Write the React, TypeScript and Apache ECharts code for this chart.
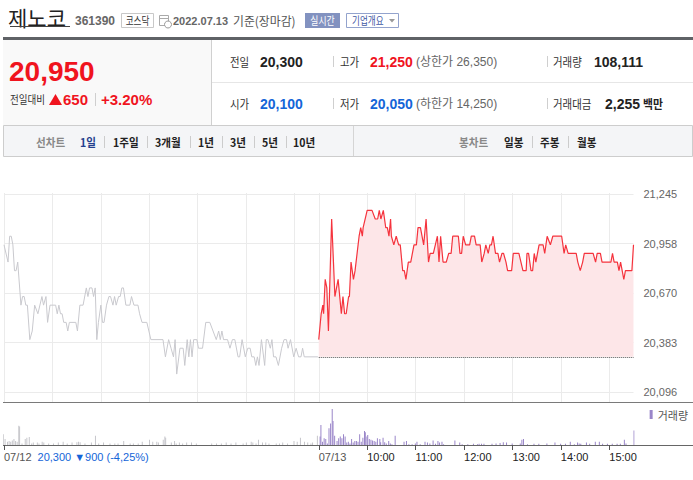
import React, { useEffect, useRef } from "react";
import * as echarts from "echarts";

const FONT = "'Liberation Sans', Arial, 'Noto Sans CJK KR', sans-serif";
const KFONT = "'Noto Sans CJK KR', 'Liberation Sans', sans-serif";

// ---- axis definitions ----
const dayMinutes = 390;
const totalMinutes = 780;
const categories: string[] = Array.from({ length: totalMinutes + 1 }, (_, i) => String(i));
const gridMinutes = [0, 60, 120, 180, 240, 300, 360, 390, 450, 510, 570, 630, 690, 750];
const tickMinutes = [0, 390, 450, 510, 570, 630, 690, 750];
const tickLabels = ["07/12", "07/13", "10:00", "11:00", "12:00", "13:00", "14:00", "15:00"];
const prevDayNote = "20,300 ▼900 (-4,25%)";

const yMin = 20096;
const yMax = 21245;
const yStep = 287.25;
const yTickLabels = ["20,096", "20,383", "20,670", "20,958", "21,245"];
const prevClose = 20300;

// ---- price data: [minute since 09:00, price] ----
const day1Price: [number, number][] = [
  [0, 20950], [5, 20850], [7, 21000], [9, 21000], [11, 20950], [13, 20800], [15, 20800], [17, 20850],
  [21, 20600], [23, 20650], [25, 20650], [27, 20600], [29, 20600], [32, 20400], [35, 20450], [38, 20600],
  [42, 20550], [47, 20650], [49, 20600], [52, 20650], [54, 20500], [57, 20600], [64, 20600], [66, 20550],
  [68, 20600], [70, 20550], [72, 20550], [74, 20500], [77, 20500], [79, 20450], [81, 20500], [89, 20500],
  [91, 20450], [94, 20600], [98, 20600], [102, 20700], [104, 20650], [106, 20700], [109, 20700], [111, 20650],
  [113, 20700], [115, 20400], [117, 20500], [120, 20600], [122, 20500], [124, 20500], [127, 20600], [130, 20650],
  [132, 20650], [135, 20600], [137, 20650], [139, 20600], [142, 20650], [144, 20650], [146, 20700], [148, 20700],
  [151, 20600], [156, 20600], [158, 20650], [161, 20600], [166, 20600], [168, 20550], [171, 20500], [177, 20500],
  [182, 20400], [197, 20400], [200, 20300], [204, 20400], [207, 20350], [210, 20300], [212, 20400], [214, 20200],
  [218, 20350], [222, 20350], [224, 20250], [227, 20400], [229, 20300], [231, 20400], [233, 20300], [235, 20400],
  [239, 20400], [241, 20350], [246, 20350], [250, 20500], [255, 20500], [259, 20450], [263, 20400], [266, 20450],
  [268, 20400], [270, 20450], [272, 20400], [277, 20400], [280, 20350], [283, 20400], [286, 20400], [290, 20300],
  [292, 20300], [295, 20400], [299, 20300], [302, 20350], [305, 20350], [307, 20300], [310, 20300], [312, 20250],
  [314, 20300], [316, 20250], [319, 20400], [323, 20250], [325, 20400], [327, 20400], [330, 20350], [332, 20400],
  [334, 20300], [337, 20300], [340, 20250], [344, 20350], [347, 20400], [350, 20400], [352, 20350], [355, 20400],
  [359, 20300], [362, 20350], [365, 20300], [368, 20300], [370, 20350], [372, 20300], [389, 20300],
];

const day2Price: [number, number][] = [
  [0, 20400], [3, 20550], [5, 20600], [6, 20550], [8, 20750], [10, 20700], [12, 20450], [16, 21100],
  [20, 20650], [24, 20750], [28, 20550], [30, 20650], [32, 20550], [34, 20550], [37, 20650], [38, 20650],
  [40, 20850], [43, 20750], [45, 20800], [50, 21000], [52, 21050], [54, 21000], [55, 21050], [60, 21150],
  [66, 21150], [70, 21100], [73, 21100], [75, 21150], [77, 21100], [80, 21150], [83, 21050], [85, 21050],
  [87, 21000], [89, 21100], [90, 21000], [93, 20950], [96, 21000], [99, 20950], [101, 20950], [104, 20800],
  [106, 20800], [108, 20750], [111, 20850], [114, 20850], [118, 20950], [121, 20950], [123, 21050], [126, 21050],
  [130, 20950], [133, 21100], [136, 20850], [138, 20900], [142, 20900], [147, 21000], [149, 20850], [151, 21000],
  [154, 20850], [158, 20850], [161, 20900], [164, 20900], [166, 21000], [173, 21000], [175, 20900], [177, 20900],
  [179, 21000], [182, 20950], [187, 20950], [189, 21000], [193, 21000], [195, 20950], [200, 20950], [202, 20850],
  [205, 20900], [207, 20950], [210, 20900], [212, 20950], [214, 20950], [216, 21000], [219, 20900], [222, 20900],
  [224, 20850], [227, 20900], [229, 20900], [232, 20850], [234, 20800], [239, 20800], [241, 20900], [248, 20900],
  [253, 20800], [257, 20800], [258, 20900], [260, 20900], [263, 20800], [265, 20800], [267, 20900], [269, 20850],
  [273, 20950], [278, 20950], [280, 20900], [283, 21000], [287, 20950], [290, 21000], [301, 21000], [304, 20900],
  [306, 20950], [309, 20900], [319, 20900], [321, 20850], [324, 20800], [327, 20850], [329, 20900], [340, 20900],
  [343, 20850], [345, 20900], [349, 20900], [351, 20850], [362, 20850], [364, 20900], [366, 20850], [370, 20850],
  [372, 20800], [374, 20850], [378, 20750], [380, 20800], [388, 20800], [390, 20950],
];

// ---- volume data: [minute since 09:00, shares] ----
const day1Volume: [number, number][] = [
  [0, 2700], [2, 1500], [5, 800], [7, 1000], [9, 800], [11, 1100], [13, 1500], [15, 1000], [17, 800],
  [19, 4800], [20, 4600], [23, 400], [27, 1500], [29, 1800], [32, 2000], [35, 400], [37, 600], [42, 600],
  [44, 400], [48, 800], [50, 600], [56, 400], [62, 400], [68, 600], [74, 800], [79, 400], [85, 600],
  [91, 700], [93, 800], [95, 700], [101, 400], [109, 600], [114, 2300], [118, 400], [124, 600], [132, 400],
  [138, 400], [142, 400], [149, 1000], [157, 400], [161, 400], [167, 400], [172, 800], [181, 1300], [185, 800],
  [190, 800], [192, 600], [198, 1300], [200, 2100], [201, 1800], [208, 600], [212, 1000], [214, 400], [218, 600],
  [222, 400], [227, 600], [233, 600], [239, 400], [258, 400], [264, 400], [270, 400], [276, 600], [282, 400],
  [288, 600], [297, 400], [301, 600], [307, 800], [309, 600], [313, 400], [316, 1300], [321, 600], [325, 600],
  [329, 400], [338, 400], [342, 400], [346, 600], [352, 400], [360, 1000], [364, 800], [368, 1800], [373, 800],
  [377, 600], [381, 400], [383, 600], [389, 2300],
];

const day2Volume: [number, number][] = [
  [1, 2100], [2, 5000], [4, 800], [6, 1700], [8, 1500], [10, 400], [12, 4200], [14, 5400], [16, 9000],
  [17, 6000], [19, 2300], [22, 1000], [24, 1700], [26, 2100], [28, 1700], [30, 2700], [32, 2100], [34, 600],
  [36, 800], [38, 400], [40, 1500], [42, 600], [44, 1000], [46, 1000], [48, 800], [50, 2700], [52, 800],
  [54, 1800], [56, 3500], [57, 3200], [59, 2100], [60, 2500], [62, 1500], [64, 1300], [66, 1100], [68, 1000],
  [70, 800], [72, 1700], [75, 1500], [76, 700], [79, 1800], [81, 700], [83, 400], [86, 1000], [88, 400],
  [90, 200], [94, 2300], [105, 800], [108, 1000], [111, 200], [115, 200], [119, 400], [121, 800], [125, 200],
  [131, 800], [134, 600], [137, 400], [141, 1100], [144, 300], [147, 1000], [149, 600], [152, 800], [154, 200],
  [168, 1100], [174, 600], [177, 200], [184, 200], [191, 300], [196, 200], [198, 300], [201, 300], [204, 300],
  [214, 300], [219, 400], [224, 500], [228, 700], [232, 600], [239, 400], [249, 400], [251, 1300], [253, 1500],
  [258, 200], [266, 300], [272, 300], [282, 400], [292, 600], [299, 300], [305, 300], [311, 800], [316, 200],
  [320, 600], [322, 400], [324, 300], [331, 600], [335, 300], [342, 800], [347, 800], [351, 300], [357, 300],
  [363, 300], [369, 300], [373, 300], [378, 1300], [380, 400], [390, 3600],
];

const volumeMax = 10000;

// ---- colours ----
const RED = "#f0141e";
const BLUE = "#1465d8";
const LINE_RED = "#f5333d";
const GREY_LINE = "#c9c9ce";
const GRID = "#ebebeb";

function txt(text: string, x: number, y: number, o: any = {}) {
  const el: any = {
    type: "text",
    x,
    y,
    silent: true,
    style: {
      text,
      fill: o.fill || "#333",
      fontSize: o.size || 12,
      fontWeight: o.bold ? "bold" : "normal",
      fontFamily: o.family || FONT,
      align: o.align || "left",
      verticalAlign: "middle",
    },
  };
  if (o.sx) el.scaleX = o.sx;
  return el;
}
function hline(x1: number, x2: number, y: number, stroke: string, w = 1) {
  return { type: "line", silent: true, shape: { x1, y1: y, x2, y2: y }, style: { stroke, lineWidth: w } };
}
function vline(x: number, y1: number, y2: number, stroke: string) {
  return { type: "line", silent: true, shape: { x1: x, y1, x2: x, y2 }, style: { stroke, lineWidth: 1 } };
}

function buildOption(): any {
  const shift = (d: [number, number][], off: number) => d.map(([m, v]) => [m + off, v]);
  const gridLeft = 4;
  const gridRight = 59.5;
  const K = (t: string, x: number, y: number, o: any = {}) => txt(t, x, y, { family: KFONT, ...o });
  const lab = { size: 12, fill: "#333", sx: 0.87 };
  const tab = { size: 11.5, bold: true, fill: "#222", sx: 0.92 };

  const graphic: any[] = [
    // title row
    K("제노코", 8, 17, { size: 21, fill: "#222" }),
    hline(10, 70, 26.5, "#444"),
    txt("361390", 75, 20.5, { size: 12, bold: true, fill: "#666" }),
    { type: "rect", silent: true, shape: { x: 121.5, y: 13.5, width: 32, height: 14 }, style: { fill: "#fff", stroke: "#c8c8c8" } },
    K("코스닥", 137.5, 20.5, { size: 11, fill: "#333", align: "center", sx: 0.78 }),
    { type: "rect", silent: true, shape: { x: 159.5, y: 15.5, width: 9, height: 10 }, style: { fill: "#fff", stroke: "#aaa" } },
    hline(159.5, 168.5, 18.5, "#aaa"),
    { type: "circle", silent: true, shape: { cx: 168, cy: 24.5, r: 3.5 }, style: { fill: "#fff", stroke: "#999" } },
    txt("2022.07.13", 173, 20.5, { size: 11, bold: true, fill: "#666" }),
    K("기준(장마감)", 233, 20.5, { size: 12.5, fill: "#555", sx: 0.95 }),
    { type: "rect", silent: true, shape: { x: 305, y: 13, width: 35, height: 15 }, style: { fill: "#8292c0" } },
    K("실시간", 322.5, 20.5, { size: 11, fill: "#fff", align: "center", sx: 0.8 }),
    { type: "rect", silent: true, shape: { x: 346.5, y: 13.5, width: 52, height: 14 }, style: { fill: "#fff", stroke: "#93a3cd" } },
    K("기업개요", 352, 20.5, { size: 11, fill: "#3f58a3", sx: 0.78 }),
    { type: "polygon", silent: true, shape: { points: [[389, 19], [395, 19], [392, 22.5]] }, style: { fill: "#999" } },
    // dark bar
    { type: "rect", silent: true, shape: { x: 3, y: 37, width: 690, height: 3 }, style: { fill: "#5f6266" } },
    // left panel
    { type: "rect", silent: true, shape: { x: 3, y: 40, width: 208, height: 85 }, style: { fill: "#f9f9f9" } },
    vline(211.5, 40, 125, "#d0d0d0"),
    txt("20,950", 9, 71, { size: 28, bold: true, fill: RED }),
    K("전일대비", 10, 99.5, { size: 11.5, fill: "#333", sx: 0.83 }),
    { type: "polygon", silent: true, shape: { points: [[49, 105], [55.5, 94], [62, 105]] }, style: { fill: RED } },
    txt("650", 63, 99.5, { size: 15, bold: true, fill: RED }),
    vline(95.5, 93, 106, "#cfcfcf"),
    txt("+3.20%", 101, 99.5, { size: 15, bold: true, fill: RED }),
    // right panel
    hline(212, 693, 82.5, "#e6e6e6"),
    K("전일", 230, 61.5, lab),
    txt("20,300", 260, 61.5, { size: 14, bold: true, fill: "#222" }),
    vline(333.5, 56, 67, "#cfcfcf"),
    K("고가", 340, 61.5, lab),
    txt("21,250", 370, 61.5, { size: 14, bold: true, fill: RED }),
    txt("(상한가 26,350)", 416, 61.5, { size: 12, fill: "#666" }),
    vline(547.5, 56, 67, "#cfcfcf"),
    K("거래량", 553, 61.5, lab),
    txt("108,111", 594, 61.5, { size: 14, bold: true, fill: "#222" }),
    K("시가", 230, 104, lab),
    txt("20,100", 260, 104, { size: 14, bold: true, fill: BLUE }),
    vline(333.5, 98, 109, "#cfcfcf"),
    K("저가", 340, 104, lab),
    txt("20,050", 370, 104, { size: 14, bold: true, fill: BLUE }),
    txt("(하한가 14,250)", 416, 104, { size: 12, fill: "#666" }),
    vline(547.5, 98, 109, "#cfcfcf"),
    K("거래대금", 553, 104, lab),
    txt("2,255", 605, 104, { size: 14, bold: true, fill: "#222" }),
    K("백만", 643, 104, { size: 12, bold: true, fill: "#222", sx: 0.9 }),
    // tab bar
    { type: "rect", silent: true, shape: { x: 3.5, y: 125.5, width: 689, height: 31 }, style: { fill: "#f4f5f7", stroke: "#cdcdcd" } },
    vline(353.5, 126, 156, "#d5d5d5"),
    K("선차트", 36, 142, { ...tab, fill: "#888" }),
    K("1일", 80, 142, { ...tab, fill: "#24408e" }),
    K("1주일", 113, 142, tab),
    K("3개월", 155, 142, tab),
    K("1년", 198, 142, tab),
    K("3년", 230, 142, tab),
    K("5년", 262, 142, tab),
    K("10년", 293, 142, tab),
    ...[104.5, 147.5, 190.5, 222.5, 254.5, 286.5].map((x) => vline(x, 136, 148, "#cccccc")),
    K("봉차트", 459, 142, { ...tab, fill: "#888" }),
    K("일봉", 504, 142, tab),
    vline(532.5, 136, 148, "#cccccc"),
    K("주봉", 540, 142, tab),
    vline(568.5, 136, 148, "#cccccc"),
    K("월봉", 577, 142, tab),
    // chart separators
    hline(3, 693, 402.5, "#7a7a7a"),
    hline(3, 693, 445.5, "#666"),
  ];

  const tickSet = new Set(tickMinutes);
  const gridSet = new Set(gridMinutes);

  return {
    animation: false,
    textStyle: { fontFamily: FONT },
    graphic,
    legend: {
      data: [{ name: "거래량", icon: "rect" }],
      right: 5,
      top: 409,
      itemWidth: 3,
      itemHeight: 9,
      padding: 0,
      selectedMode: false,
      textStyle: { fontSize: 11, color: "#555", fontFamily: KFONT },
    },
    grid: [
      { left: gridLeft, right: gridRight, top: 193, height: 209 },
      { left: gridLeft, right: gridRight, top: 194, height: 198 },
      { left: gridLeft, right: gridRight, top: 405, height: 40 },
    ],
    xAxis: [
      {
        type: "category", gridIndex: 0, data: categories, boundaryGap: false,
        axisLine: { show: false }, axisTick: { show: false }, axisLabel: { show: false },
        splitLine: { show: true, interval: (i: number) => gridSet.has(i), lineStyle: { color: GRID, width: 1 } },
      },
      {
        type: "category", gridIndex: 1, data: categories, boundaryGap: false,
        axisLine: { show: false }, axisTick: { show: false }, axisLabel: { show: false }, splitLine: { show: false },
      },
      {
        type: "category", gridIndex: 2, data: categories, boundaryGap: false,
        axisLine: { show: false },
        axisTick: { show: true, interval: (i: number) => tickSet.has(i), length: 5, lineStyle: { color: "#555" } },
        splitLine: { show: false },
        axisLabel: {
          show: true,
          interval: (i: number) => tickSet.has(i),
          align: "left",
          margin: 6,
          fontSize: 11,
          color: "#222",
          formatter: (_v: string, i: number) => {
            const k = tickMinutes.indexOf(i);
            if (k < 0) return "";
            if (k === 0) return `{d|${tickLabels[0]}}{b|${prevDayNote}}`;
            if (k === 1) return `{d|${tickLabels[1]}}`;
            return tickLabels[k];
          },
          rich: {
            d: { fontSize: 11, color: "#555" },
            b: { fontSize: 11, color: BLUE, padding: [0, 0, 0, 6] },
          },
        },
      },
    ],
    yAxis: [
      { type: "value", gridIndex: 0, show: false, min: 0, max: 1, splitLine: { show: false } },
      {
        type: "value", gridIndex: 1, position: "right", min: yMin, max: yMax, interval: yStep,
        axisLine: { show: false }, axisTick: { show: false },
        axisLabel: { color: "#666", fontSize: 11, margin: 10, formatter: (_v: number, i: number) => yTickLabels[i] ?? "" },
        splitLine: { show: true, lineStyle: { color: GRID, width: 1 } },
      },
      { type: "value", gridIndex: 2, show: false, min: 0, max: volumeMax, splitLine: { show: false } },
    ],
    series: [
      {
        name: "전일", type: "line", xAxisIndex: 1, yAxisIndex: 1, data: shift(day1Price, 0),
        symbol: "none", silent: true, lineStyle: { color: GREY_LINE, width: 1 }, itemStyle: { color: GREY_LINE },
      },
      {
        name: "당일", type: "line", xAxisIndex: 1, yAxisIndex: 1, data: shift(day2Price, dayMinutes),
        symbol: "none", silent: true, lineStyle: { color: LINE_RED, width: 1.2 }, itemStyle: { color: LINE_RED },
        areaStyle: { color: "#fde6e8", opacity: 1, origin: prevClose },
        markLine: {
          silent: true, symbol: ["none", "none"], label: { show: false },
          lineStyle: { type: "dotted", color: "#555", width: 1 },
          data: [[{ coord: [dayMinutes, prevClose] }, { coord: [totalMinutes, prevClose] }]],
        },
      },
      {
        name: "전일거래량", type: "bar", xAxisIndex: 2, yAxisIndex: 2, data: shift(day1Volume, 0),
        barWidth: 1, silent: true, itemStyle: { color: "#c6c6cb" },
      },
      {
        name: "거래량", type: "bar", xAxisIndex: 2, yAxisIndex: 2, data: shift(day2Volume, dayMinutes),
        barWidth: 1, silent: true, itemStyle: { color: "#9a86c9" },
      },
    ],
  };
}

export default function App() {
  const ref = useRef<HTMLDivElement>(null);
  useEffect(() => {
    if (!ref.current) return;
    const chart = echarts.init(ref.current, null, { renderer: "svg", width: 693, height: 480 });
    chart.setOption(buildOption());
    return () => chart.dispose();
  }, []);
  return (
    <div
      ref={ref}
      style={{ position: "absolute", left: 0, top: 0, width: 693, height: 480, background: "#fff" }}
    />
  );
}
